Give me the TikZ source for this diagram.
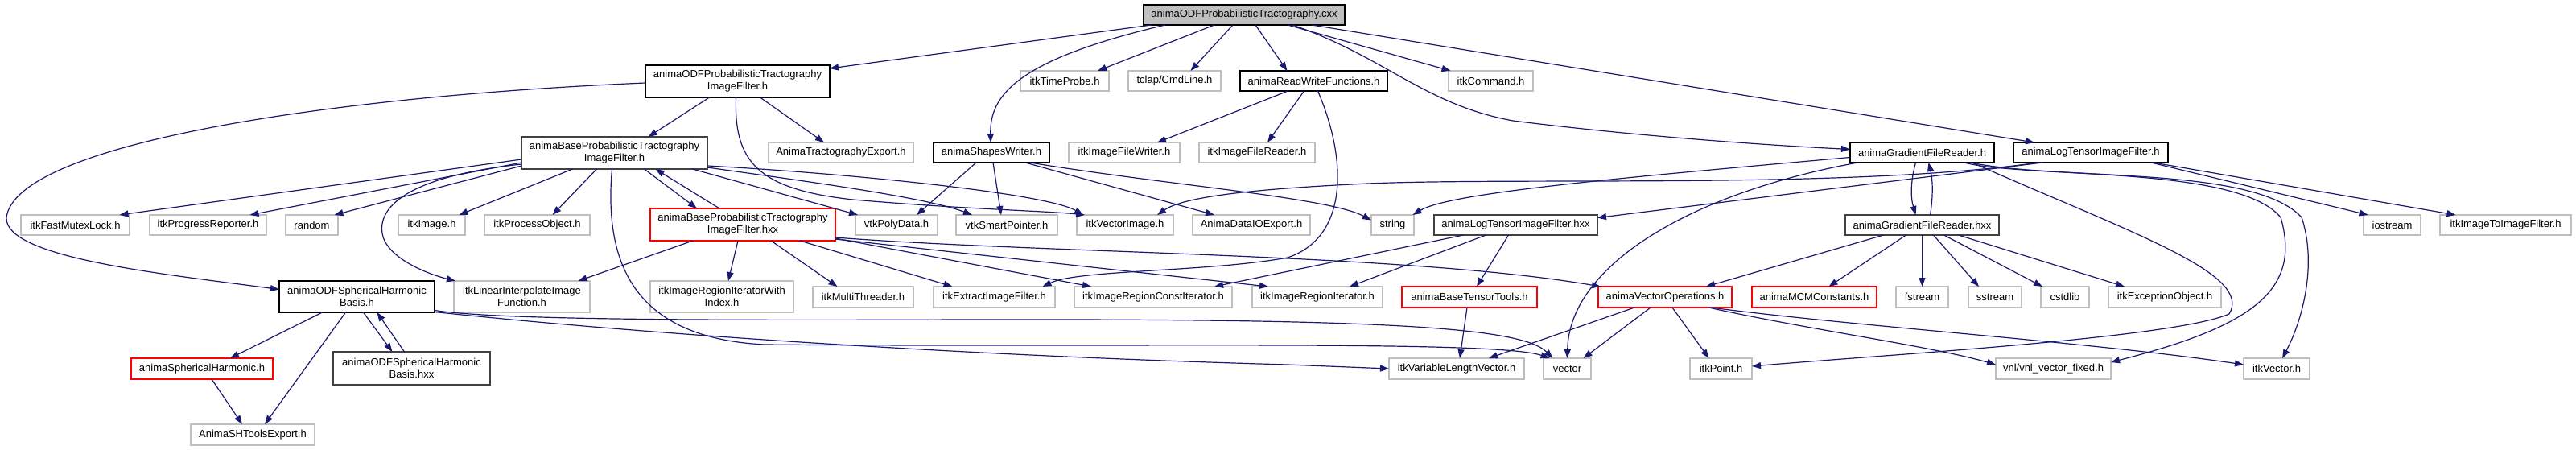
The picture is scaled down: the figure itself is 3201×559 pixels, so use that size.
\documentclass[tikz,border=0pt]{standalone}
\usepackage{fontspec}
\setmainfont{Liberation Sans}
\usetikzlibrary{arrows.meta}
\definecolor{edgeblue}{HTML}{191970}
\definecolor{grayline}{HTML}{BFBFBF}
\definecolor{darkline}{HTML}{404040}
\definecolor{rootfill}{HTML}{BFBFBF}
\tikzset{
  box/.style={draw, line width=1.1pt, fill=white, inner sep=0pt, outer sep=0pt, align=center, font=\fontsize{13}{15}\selectfont},
  blk/.style={box, draw=black},
  gry/.style={box, draw=grayline, line width=1.3pt},
  trunc/.style={box, draw=red},
  dk/.style={box, draw=darkline, line width=1.6pt},
  rootbox/.style={box, draw=black, fill=rootfill},
  dep/.style={draw=edgeblue, line width=1.2pt, -{Triangle[length=11pt,width=8pt]}}
}
\newcommand\gnode[7]{\node[#1, minimum width={#4-#3}, minimum height={#6-#5}] (#2) at ({(#3+#4)/2},{(#5+#6)/2}) {#7};}
\begin{document}
\begin{tikzpicture}[x=1pt,y=-1pt]
\useasboundingbox (0,0) rectangle (3201,559);
% row 1
\gnode{rootbox}{root}{1421}{1671}{6}{31}{animaODFProbabilisticTractography.cxx}
% row 2
\gnode{blk}{odfptif}{802}{1031}{81}{121}{animaODFProbabilisticTractography\\ImageFilter.h}
\gnode{gry}{timeprobe}{1268}{1378}{88}{113}{itkTimeProbe.h}
\gnode{gry}{tclap}{1402}{1517}{88}{113}{tclap/CmdLine.h}
\gnode{blk}{rwf}{1541}{1724}{88}{113}{animaReadWriteFunctions.h}
\gnode{gry}{itkcmd}{1800}{1905}{88}{113}{itkCommand.h}
% row 3
\gnode{dk}{baseh}{648}{879}{170}{210}{animaBaseProbabilisticTractography\\ImageFilter.h}
\gnode{gry}{tractexp}{955}{1135}{177}{202}{AnimaTractographyExport.h}
\gnode{blk}{shapes}{1160}{1304}{177}{202}{animaShapesWriter.h}
\gnode{gry}{ifw}{1328}{1466}{177}{202}{itkImageFileWriter.h}
\gnode{gry}{ifr}{1490}{1634}{177}{202}{itkImageFileReader.h}
\gnode{blk}{gfrh}{2299}{2478}{177}{202}{animaGradientFileReader.h}
\gnode{blk}{ltfh}{2502}{2694}{177}{202}{animaLogTensorImageFilter.h}
% row 4
\gnode{gry}{fml}{26}{161}{267}{292}{itkFastMutexLock.h}
\gnode{gry}{prog}{186}{331}{267}{292}{itkProgressReporter.h}
\gnode{gry}{random}{355}{420}{267}{292}{random}
\gnode{gry}{itkimage}{495}{578}{267}{292}{itkImage.h}
\gnode{gry}{procobj}{602}{733}{267}{292}{itkProcessObject.h}
\gnode{trunc}{basehxx}{808}{1038}{259}{299}{animaBaseProbabilisticTractography\\ImageFilter.hxx}
\gnode{gry}{vtkpoly}{1063}{1165}{267}{292}{vtkPolyData.h}
\gnode{gry}{vtksmart}{1188}{1314}{267}{292}{vtkSmartPointer.h}
\gnode{gry}{vecimg}{1338}{1458}{267}{292}{itkVectorImage.h}
\gnode{gry}{dataio}{1482}{1628}{267}{292}{AnimaDataIOExport.h}
\gnode{gry}{string}{1704}{1757}{267}{292}{string}
\gnode{dk}{ltfhxx}{1782}{1985}{267}{292}{animaLogTensorImageFilter.hxx}
\gnode{dk}{gfrhxx}{2293}{2484}{267}{292}{animaGradientFileReader.hxx}
\gnode{gry}{iostream}{2937}{3008}{267}{292}{iostream}
\gnode{gry}{itoi}{3032}{3195}{267}{292}{itkImageToImageFilter.h}
% row 5
\gnode{blk}{odfsh}{347}{540}{349}{388}{animaODFSphericalHarmonic\\Basis.h}
\gnode{gry}{linint}{564}{733}{349}{388}{itkLinearInterpolateImage\\Function.h}
\gnode{gry}{rwidx}{808}{986}{349}{388}{itkImageRegionIteratorWith\\Index.h}
\gnode{gry}{mt}{1010}{1135}{356}{382}{itkMultiThreader.h}
\gnode{gry}{extract}{1160}{1311}{356}{382}{itkExtractImageFilter.h}
\gnode{gry}{rci}{1335}{1531}{356}{382}{itkImageRegionConstIterator.h}
\gnode{gry}{ri}{1556}{1718}{356}{382}{itkImageRegionIterator.h}
\gnode{trunc}{btt}{1742}{1910}{356}{382}{animaBaseTensorTools.h}
\gnode{trunc}{vecops}{1986}{2152}{356}{382}{animaVectorOperations.h}
\gnode{trunc}{mcm}{2177}{2332}{356}{382}{animaMCMConstants.h}
\gnode{gry}{fstream}{2356}{2421}{356}{382}{fstream}
\gnode{gry}{sstream}{2446}{2512}{356}{382}{sstream}
\gnode{gry}{cstdlib}{2536}{2596}{356}{382}{cstdlib}
\gnode{gry}{excobj}{2620}{2760}{356}{382}{itkExceptionObject.h}
% row 6
\gnode{trunc}{sh}{163}{339}{445}{471}{animaSphericalHarmonic.h}
\gnode{dk}{odfshhxx}{414}{609}{437}{478}{animaODFSphericalHarmonic\\Basis.hxx}
\gnode{gry}{varlen}{1726}{1894}{445}{471}{itkVariableLengthVector.h}
\gnode{gry}{vector}{1918}{1977}{445}{471}{vector}
\gnode{gry}{point}{2100}{2177}{445}{471}{itkPoint.h}
\gnode{gry}{vnl}{2480}{2623}{445}{471}{vnl/vnl\_vector\_fixed.h}
\gnode{gry}{itkvec}{2788}{2870}{445}{471}{itkVector.h}
% row 7
\gnode{gry}{shexp}{237}{391}{527}{553}{AnimaSHToolsExport.h}

% edges from root
\draw[dep] ([xshift=10]root.south west) -- ([yshift=-4]odfptif.north east);
\draw[dep] ([xshift=27]root.south west) .. controls (1260,75) and (1230,120) .. ([xshift=-1]shapes.north);
\draw[dep] ([xshift=-37]root.south) -- ([xshift=41]timeprobe.north);
\draw[dep] ([xshift=-14]root.south) -- ([xshift=20]tclap.north);
\draw[dep] ([xshift=14]root.south) -- ([xshift=-33]rwf.north);
\draw[dep] ([xshift=54]root.south) -- ([xshift=-50]itkcmd.north);
\draw[dep] ([xshift=60]root.south) .. controls (1720,70) and (1770,130) .. (1880,150) .. controls (2000,165) and (2150,178) .. ([yshift=4]gfrh.west);
\draw[dep] ([xshift=84]root.south) -- ([xshift=-70]ltfh.north);
% odfptif
\draw[dep] ([xshift=-35]odfptif.south) -- ([xshift=42]baseh.north);
\draw[dep] ([xshift=28]odfptif.south) -- ([xshift=-21]tractexp.north);
\draw[dep] ([xshift=-2]odfptif.south) .. controls (912,200) and (940,235) .. (1060,248) .. controls (1200,260) and (1300,262) .. ([xshift=-50]vecimg.north);
\draw[dep] ([yshift=-2]odfptif.west) .. controls (400,120) and (20,180) .. (8,270) .. controls (5,320) and (200,340) .. ([yshift=9]odfsh.west);
% baseh
\draw[dep] ([yshift=-8]baseh.west) -- ([xshift=55]fml.north);
\draw[dep] ([yshift=-12]baseh.west) -- ([xshift=52]prog.north);
\draw[dep] ([yshift=-16]baseh.west) -- ([xshift=28]random.north);
\draw[dep] ([xshift=-52]baseh.south) -- ([xshift=34]itkimage.north);
\draw[dep] ([xshift=-22]baseh.south) -- ([xshift=19]procobj.north);
\draw[dep] ([yshift=-14]baseh.west) .. controls (500,220) and (470,260) .. (475,290) .. controls (480,320) and (530,340) .. ([xshift=2]linint.north west);
\draw[dep] ([xshift=37]baseh.south) -- ([xshift=-57]basehxx.north);
\draw[dep] ([xshift=-29]basehxx.north) -- ([xshift=51]baseh.south);
\draw[dep] ([xshift=97]baseh.south) -- ([xshift=-48]vtkpoly.north);
\draw[dep] ([yshift=-18]baseh.east) .. controls (1000,225) and (1150,245) .. ([xshift=-43]vtksmart.north);
\draw[dep] ([yshift=-16]baseh.east) .. controls (1050,215) and (1300,240) .. ([xshift=-52]vecimg.north);
\draw[dep] ([xshift=-3]baseh.south) .. controls (750,330) and (790,420) .. (950,428) .. controls (1400,432) and (1860,422) .. ([xshift=-22]vector.north);
% odfsh
\draw[dep] ([xshift=-43]odfsh.south) -- ([xshift=35]sh.north);
\draw[dep] ([xshift=-14]odfsh.south) -- ([xshift=15]shexp.north);
\draw[dep] ([xshift=8]odfsh.south) -- ([xshift=-24]odfshhxx.north);
\draw[dep] ([xshift=-9]odfshhxx.north) -- ([xshift=25]odfsh.south);
\draw[dep] ([xshift=12]sh.south) -- ([xshift=-13]shexp.north);
\draw[dep] ([yshift=-17]odfsh.east) .. controls (620,398) and (900,398) .. (1200,397) .. controls (1700,396) and (1890,405) .. ([xshift=-18]vector.north);
\draw[dep] ([yshift=-19]odfsh.east) .. controls (800,415) and (1200,442) .. (1600,453) -- (varlen.west);
% basehxx
\draw[dep] ([xshift=-62]basehxx.south) -- ([xshift=70]linint.north);
\draw[dep] ([xshift=-6]basehxx.south) -- ([xshift=8]rwidx.north);
\draw[dep] ([xshift=35]basehxx.south) -- ([xshift=-32]mt.north);
\draw[dep] ([xshift=71]basehxx.south) -- ([xshift=-52]extract.north);
\draw[dep] ([yshift=-17]basehxx.east) -- ([xshift=-77]rci.north);
\draw[dep] ([yshift=-18]basehxx.east) -- ([xshift=-61]ri.north);
\draw[dep] ([yshift=-16]basehxx.east) .. controls (1300,315) and (1750,315) .. ([xshift=-80]vecops.north);
% ltfhxx
\draw[dep] ([xshift=-65]ltfhxx.south) -- ([xshift=76]rci.north);
\draw[dep] ([xshift=-37]ltfhxx.south) -- ([xshift=40]ri.north);
\draw[dep] ([xshift=-9]ltfhxx.south) -- ([xshift=9]btt.north);
% rwf
\draw[dep] ([xshift=-32]rwf.south) -- ([xshift=41]ifw.north);
\draw[dep] ([xshift=-12]rwf.south) -- ([xshift=13]ifr.north);
\draw[dep] ([xshift=5]rwf.south) .. controls (1675,200) and (1675,295) .. (1600,320) .. controls (1500,338) and (1340,335) .. ([xshift=60]extract.north);
% shapes
\draw[dep] ([xshift=-19]shapes.south) -- ([xshift=25]vtkpoly.north);
\draw[dep] ([xshift=2]shapes.south) -- ([xshift=-7]vtksmart.north);
\draw[dep] ([xshift=42]shapes.south) -- ([xshift=-46]dataio.north);
\draw[dep] ([xshift=48]shapes.south) .. controls (1450,230) and (1650,245) .. ([yshift=6]string.west);
% gfrh
\draw[dep] ([yshift=-6]gfrh.west) .. controls (2000,222) and (1800,240) .. ([xshift=25]string.north);
\draw[dep] ([xshift=-80]gfrh.south) .. controls (2100,240) and (1950,330) .. (vector.north);
\draw[dep] ([xshift=-8]gfrh.south) .. controls (2374,225) and (2374,245) .. ([xshift=-8]gfrhxx.north);
\draw[dep] ([xshift=10]gfrhxx.north) .. controls (2402,245) and (2402,225) .. ([xshift=8]gfrh.south);
\draw[dep] ([xshift=62]gfrh.south) .. controls (2650,290) and (2800,340) .. (2770,390) .. controls (2700,420) and (2350,440) .. ([yshift=3]point.east);
\draw[dep] ([xshift=52]gfrh.south) .. controls (2520,222) and (2780,205) .. (2834,270) .. controls (2860,360) and (2800,405) .. ([yshift=8]vnl.east);
\draw[dep] ([xshift=60]gfrh.south) .. controls (2560,225) and (2800,205) .. (2860,270) .. controls (2880,330) and (2860,400) .. ([xshift=7]itkvec.north);
% ltfh
\draw[dep] ([xshift=-60]ltfh.south) -- ([yshift=9]ltfhxx.east);
\draw[dep] ([xshift=-65]ltfh.south) .. controls (2300,235) and (1900,220) .. (1700,228) .. controls (1550,235) and (1470,245) .. ([xshift=40]vecimg.north);
\draw[dep] ([xshift=75]ltfh.south) -- ([xshift=-30]iostream.north);
\draw[dep] ([xshift=78]ltfh.south) -- ([xshift=-62]itoi.north);
% gfrhxx
\draw[dep] ([xshift=-48]gfrhxx.south) -- ([xshift=51]vecops.north);
\draw[dep] ([xshift=-20]gfrhxx.south) -- ([xshift=18]mcm.north);
\draw[dep] (gfrhxx.south) -- (fstream.north);
\draw[dep] ([xshift=14]gfrhxx.south) -- ([xshift=-20]sstream.north);
\draw[dep] ([xshift=27]gfrhxx.south) -- ([xshift=-28]cstdlib.north);
\draw[dep] ([xshift=45]gfrhxx.south) -- ([xshift=-50]excobj.north);
% btt, vecops
\draw[dep] ([xshift=-3]btt.south) -- ([xshift=4]varlen.north);
\draw[dep] ([xshift=-38]vecops.south) -- ([xshift=40]varlen.north);
\draw[dep] ([xshift=-18]vecops.south) -- ([xshift=20]vector.north);
\draw[dep] ([xshift=9]vecops.south) -- ([xshift=-15]point.north);
\draw[dep] ([xshift=54]vecops.south) .. controls (2250,410) and (2400,430) .. ([yshift=5]vnl.west);
\draw[dep] ([xshift=57]vecops.south) .. controls (2300,405) and (2600,425) .. ([yshift=5]itkvec.west);
\end{tikzpicture}
\end{document}
